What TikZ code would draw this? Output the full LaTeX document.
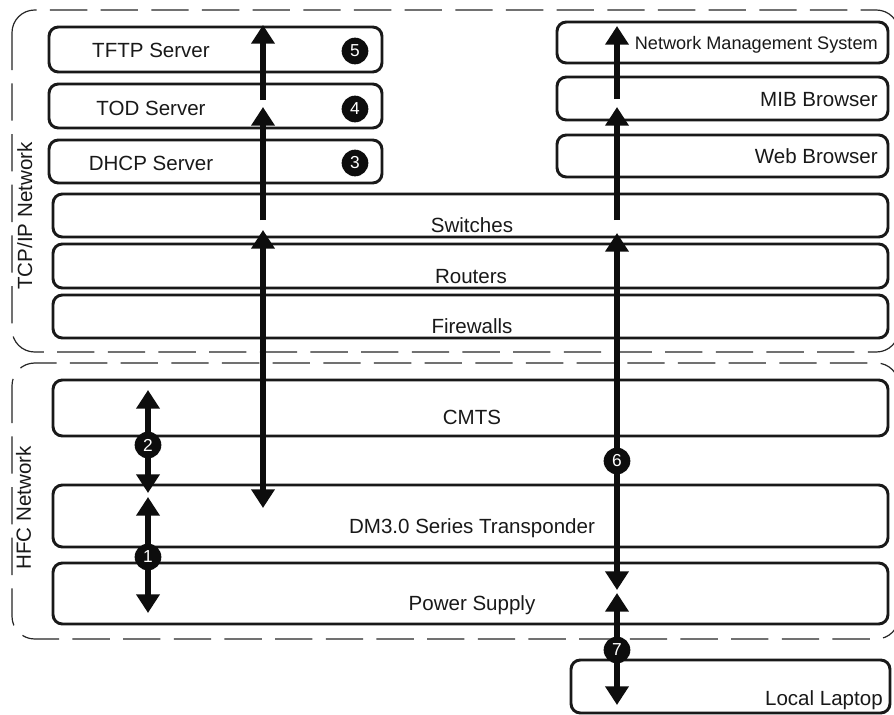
\documentclass[tikz,border=0pt]{standalone}
\usepackage{fontspec}
\setmainfont{Liberation Sans}
\usetikzlibrary{arrows.meta}
\begin{document}
\begin{tikzpicture}[x=0.75pt,y=-0.75pt,
  box/.style={draw=black!90, line width=2.2pt, rounded corners=7pt},
  region/.style={draw=black!85, line width=0.9pt, dash pattern=on 28pt off 10pt, rounded corners=17pt},
  lbl/.style={font=\fontsize{15.4}{18}\selectfont, text=black!90, inner sep=0pt},
  small/.style={lbl, font=\fontsize{13.6}{16}\selectfont},
  tip/.tip={Triangle[length=14pt,width=17pt]},
  flow/.style={line width=4.5pt, draw=black!95, -tip},
  flowtwo/.style={line width=4.5pt, draw=black!95, tip-tip},
  badge/.style={circle, fill=black!95, text=white, minimum size=20pt, inner sep=0pt, font=\fontsize{13}{13}\selectfont}]
\useasboundingbox (0,0) rectangle (894,715);
\fill[white] (0,0) rectangle (894,715);

% network regions
\draw[region] (12,10) rectangle (899,352);
\draw[region] (12,363) rectangle (899,639);
\node[lbl, rotate=90, anchor=base] (tcpip) at (32,216) {TCP/IP Network};
\node[lbl, rotate=90, anchor=base] (hfc) at (31,508) {HFC Network};

% boxes
\draw[box] (49,27) rectangle (382,72);
\draw[box] (49,84) rectangle (382,128);
\draw[box] (49,140) rectangle (382,183);
\draw[box] (557,22) rectangle (888,63);
\draw[box] (557,77) rectangle (888,120);
\draw[box] (557,135) rectangle (888,177);
\draw[box] (53,194) rectangle (888,237);
\draw[box] (53,244) rectangle (888,288);
\draw[box] (53,295) rectangle (888,338);
\draw[box] (53,380) rectangle (888,436);
\draw[box] (53,485) rectangle (888,547);
\draw[box] (53,563) rectangle (888,624);
\draw[box] (571,660) rectangle (890,713);

% labels
\node[lbl, anchor=base] (tftp) at (151,57) {TFTP Server};
\node[lbl, anchor=base] (tod) at (151,115) {TOD Server};
\node[lbl, anchor=base] (dhcp) at (151,170) {DHCP Server};
\node[small, anchor=base east] (nms) at (878,49) {Network Management System};
\node[lbl, anchor=base east] (mib) at (878,106) {MIB Browser};
\node[lbl, anchor=base east] (web) at (878,163) {Web Browser};
\node[lbl, anchor=base] (sw) at (472,232) {Switches};
\node[lbl, anchor=base] (rt) at (471,283) {Routers};
\node[lbl, anchor=base] (fw) at (472,333) {Firewalls};
\node[lbl, anchor=base] (cmts) at (472,424) {CMTS};
\node[lbl, anchor=base] (dm) at (472,533) {DM3.0 Series Transponder};
\node[lbl, anchor=base] (ps) at (472,610) {Power Supply};
\node[lbl, anchor=base east] (lap) at (883,705) {Local Laptop};

% arrow end points
\coordinate (l1s) at (263,220); \coordinate (l1e) at (263,107);
\coordinate (l2s) at (263,100); \coordinate (l2e) at (263,25);
\coordinate (l3a) at (263,230); \coordinate (l3b) at (263,508);
\coordinate (r1s) at (617,220); \coordinate (r1e) at (617,107);
\coordinate (r2s) at (617,99);  \coordinate (r2e) at (617,26);
\coordinate (r3a) at (617,233); \coordinate (r3b) at (617,590);
\coordinate (r4a) at (617,593); \coordinate (r4b) at (617,705);
\coordinate (s1a) at (148,390); \coordinate (s1b) at (148,493);
\coordinate (s2a) at (148,497); \coordinate (s2b) at (148,613);

\draw[flow] (l1s) -- (l1e);
\draw[flow] (l2s) -- (l2e);
\draw[flowtwo] (l3a) -- (l3b);
\draw[flow] (r1s) -- (r1e);
\draw[flow] (r2s) -- (r2e);
\draw[flowtwo] (r3a) -- (r3b);
\draw[flowtwo] (r4a) -- (r4b);
\draw[flowtwo] (s1a) -- (s1b);
\draw[flowtwo] (s2a) -- (s2b);

% badges
\node[badge] (b5) at (355,51) {5};
\node[badge] (b4) at (355,109) {4};
\node[badge] (b3) at (355,163) {3};
\node[badge] (b2) at (148,445) {2};
\node[badge] (b1) at (148,557) {1};
\node[badge] (b6) at (617,461) {6};
\node[badge] (b7) at (617,650) {7};
\end{tikzpicture}
\end{document}
